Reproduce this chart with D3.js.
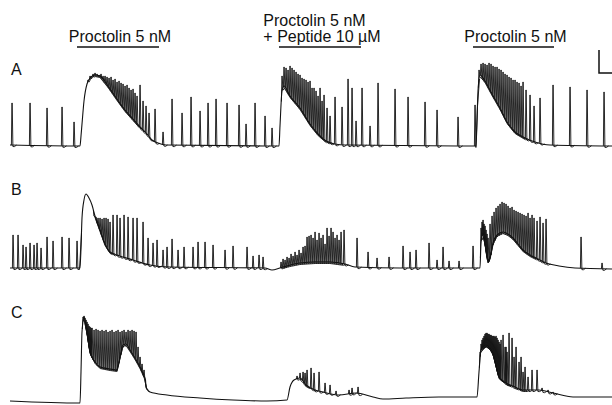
<!DOCTYPE html>
<html>
<head>
<meta charset="utf-8">
<script src="https://cdn.jsdelivr.net/npm/d3@7"></script>
<style>
  body { margin: 0; background: #fff; }
  svg { display: block; font-family: "Liberation Sans", Arial, sans-serif; }
</style>
</head>
<body>
<div id="chart"></div>
<script>
// drug applications (time, s) and their labels
const drugStart = [77, 279, 473];
const drugEnd = [159, 361, 554];
const drugLabels = [["Proctolin 5 nM"], ["Proctolin 5 nM", "+ Peptide 10 µM"], ["Proctolin 5 nM"]];

const panelNames = ["A", "B", "C"];

// slow potential (lower envelope) of each trace: [time, level]
const baseA = [[10, 1], [80, 0], [81, 10], [82, 22], [84, 45], [87, 62], [91, 69], [95, 71], [100, 70],
  [108, 60], [117, 47], [125, 36], [133, 27], [140, 19], [147, 12], [152, 6], [158, 3], [166, 1],
  [279, 0], [280, 20], [282, 55], [284, 60], [290, 50], [300, 38], [310, 22], [318, 12], [326, 5],
  [335, 2], [345, 1], [476, 0], [478, 55], [480, 71], [485, 65], [492, 52], [500, 38], [507, 24],
  [515, 14], [525, 8], [535, 4], [550, 1], [612, 0]];
const baseB = [[10, 0], [80, 0], [81, 20], [82, 50], [84, 68], [86, 74], [89, 70], [92, 63], [95, 52],
  [100, 38], [105, 24], [110, 16], [117, 13], [133, 8], [150, 3], [170, 1], [265, 0], [272, -2],
  [280, 0], [290, 3], [300, 5], [315, 6], [330, 6], [345, 4], [355, 1], [400, 0], [480, 0],
  [481, 25], [483, 35], [485, 25], [488, 6], [490, 10], [493, 25], [497, 33], [503, 36], [508, 34],
  [513, 30], [518, 24], [523, 18], [530, 13], [536, 10], [546, 5], [559, 2], [575, 0], [612, -1]];
const baseC = [[10, 1], [80, -1], [81, 30], [82, 70], [84, 85], [87, 70], [90, 50], [95, 40],
  [100, 35], [110, 33], [117, 32], [120, 45], [123, 57], [126, 58], [130, 52], [135, 44], [140, 35],
  [144, 26], [145.5, 22], [146, 15], [150, 10], [167, 7], [200, 4], [233, 2], [267, 1], [287, 2],
  [290, 15], [294, 22], [300, 24], [306, 17], [315, 12], [323, 10], [339, 7], [356, 9], [373, 5],
  [383, 3], [406, 4], [439, 5], [477, 5], [479, 30], [481, 52], [486, 57], [490, 54], [493, 49],
  [499, 25], [506, 19], [515, 15], [523, 12], [539, 12], [553, 9], [573, 5], [612, 5]];

// spikes: [time, peak level]
const spikesA = [[12, 43], [30, 43], [47, 38], [62, 39], [74, 24],
  [88, 66], [90, 70], [93, 72], [95, 73], [97, 72], [99, 71], [101, 72], [103, 70], [105, 70],
  [107, 69], [109, 68], [111, 69], [113, 66], [115, 67], [117, 64], [119, 65], [121, 63], [123, 62],
  [125, 60], [127, 61], [129, 58], [131, 56], [133, 57], [135, 53], [137, 50], [140, 61], [143, 45],
  [146, 40], [149, 33],
  [155, 37], [163, 14], [172, 47], [182, 33], [191, 49], [200, 35], [208, 43], [216, 47], [227, 43],
  [239, 41], [246, 22], [255, 43], [265, 30], [272, 18],
  [282, 70], [284, 79], [286, 78], [288, 76], [290, 80], [292, 78], [294, 76], [296, 74], [298, 72],
  [300, 71], [302, 68], [304, 67], [306, 66], [308, 64], [310, 65], [312, 58], [314, 58], [316, 55],
  [318, 50], [320, 58], [322, 45], [324, 51], [327, 38], [330, 30], [335, 49], [342, 39], [348, 67],
  [352, 58], [356, 25], [362, 58], [370, 20], [378, 63], [395, 57], [408, 49], [425, 44], [437, 36],
  [458, 29], [475, 41],
  [479, 76], [481, 82], [483, 83], [485, 82], [487, 81], [489, 83], [491, 82], [493, 80], [495, 79],
  [497, 79], [499, 77], [501, 76], [503, 74], [505, 72], [507, 71], [509, 69], [511, 68], [513, 66],
  [515, 66], [517, 64], [519, 63], [521, 60], [523, 64], [526, 56], [530, 51], [534, 40], [540, 48],
  [553, 61], [570, 59], [587, 56], [604, 54]];
const spikesB = [[13, 33], [18, 33], [23, 23], [26, 21], [30, 25], [34, 23], [37, 25], [41, 20],
  [47, 31], [53, 27], [62, 31], [69, 30], [77, 27],
  [94, 52], [96, 51], [98, 50], [100, 50], [102, 49], [104, 50], [106, 50], [108, 49], [110, 46],
  [113, 53], [117, 53], [120, 50], [124, 53], [128, 51], [133, 50], [137, 50], [143, 46], [148, 30],
  [153, 25], [157, 28], [163, 18], [167, 21], [172, 29], [178, 18], [184, 21], [193, 21], [198, 26],
  [205, 26], [213, 23], [225, 18], [233, 22], [247, 21], [253, 12], [259, 13], [263, 11],
  [281, 6], [283, 9], [285, 8], [287, 11], [289, 10], [291, 14], [293, 12], [295, 16], [297, 13],
  [299, 18], [301, 15], [303, 21], [305, 22], [307, 31], [309, 32], [311, 33], [313, 30], [315, 36],
  [317, 28], [319, 35], [321, 30], [323, 33], [325, 24], [327, 40], [329, 32], [331, 40], [333, 36],
  [335, 30], [337, 33], [339, 28], [341, 36], [344, 38], [357, 30], [368, 16], [377, 10], [389, 11],
  [403, 22], [410, 16], [416, 18], [429, 25], [437, 8], [443, 21], [449, 7], [459, 7], [473, 22],
  [481, 40], [482, 46], [483, 48], [484, 44], [485, 42], [486, 38], [487, 34], [488, 30], [490, 44],
  [492, 52], [494, 56], [496, 60], [498, 62], [500, 64], [502, 66], [504, 65], [506, 64], [508, 62],
  [510, 60], [512, 61], [514, 58], [516, 57], [518, 56], [520, 55], [522, 54], [524, 53], [526, 52],
  [528, 55], [530, 50], [532, 53], [534, 50], [537, 47], [540, 51], [543, 45], [546, 49],
  [581, 31], [602, 5]];
const spikesC = [[83, 85], [84, 86], [85, 84], [86, 82], [87, 80], [88, 78], [89, 76], [90, 75],
  [91, 74], [92, 74], [94, 72], [96, 73], [98, 72], [100, 71], [102, 72], [104, 71], [106, 72],
  [108, 70], [110, 71], [112, 72], [114, 70], [116, 71], [118, 72], [120, 70], [122, 71], [124, 72],
  [126, 70], [128, 72], [130, 71], [132, 72], [134, 71], [136, 70], [138, 55], [140, 45], [142, 38],
  [144, 32],
  [297, 26], [300, 29], [303, 30], [305, 29], [307, 32], [311, 34], [314, 29], [319, 30], [325, 19],
  [330, 17], [336, 11], [349, 12], [352, 14], [358, 15],
  [480, 50], [481, 58], [482, 62], [483, 64], [484, 66], [485, 68], [486, 69], [487, 69], [488, 68],
  [489, 68], [490, 67], [491, 67], [492, 66], [493, 66], [494, 66], [495, 65], [496, 66], [497, 64],
  [498, 62], [499, 60], [500, 58], [501, 62], [503, 67], [505, 55], [506, 55], [507, 50], [509, 69],
  [512, 64], [514, 45], [516, 55], [519, 40], [521, 45], [523, 30], [525, 35], [528, 25], [532, 32],
  [537, 32], [542, 14], [548, 12], [553, 10]];

const traces = [
  { name: "A", base: baseA, spikes: spikesA, rest: 146, labelY: 75 },
  { name: "B", base: baseB, spikes: spikesB, rest: 268, labelY: 195 },
  { name: "C", base: baseC, spikes: spikesC, rest: 402, labelY: 318 }
];

const width = 612, height = 405;
const svg = d3.select("#chart").append("svg")
  .attr("width", width).attr("height", height)
  .attr("viewBox", `0 0 ${width} ${height}`);

const x = d3.scaleLinear().domain([0, 612]).range([0, 612]);
const bis = d3.bisector(d => d[0]).left;

// level of the slow potential at time t
function levelAt(base, t) {
  const i = Math.max(1, Math.min(base.length - 1, bis(base, t)));
  const a = base[i - 1], b = base[i];
  return d3.interpolateNumber(a[1], b[1])((t - a[0]) / (b[0] - a[0]));
}

traces.forEach(tr => {
  const y = d3.scaleLinear().domain([0, 100]).range([tr.rest, tr.rest - 100]);
  const line = d3.line().x(d => x(d[0])).y(d => y(d[1]));
  const g = svg.append("g");

  g.append("path")
    .attr("d", line.curve(d3.curveMonotoneX)(tr.base))
    .attr("fill", "none").attr("stroke", "#111").attr("stroke-width", 1.1);

  const spikeLine = d3.line().x(d => x(d[0])).y(d => y(d[1]));
  g.selectAll("path.spike")
    .data(tr.spikes)
    .join("path")
    .attr("class", "spike")
    .attr("d", d => {
      const t = d[0];
      return spikeLine([
        [t - 0.6, levelAt(tr.base, t - 0.6)],
        [t - 0.1, d[1]],
        [t + 0.2, d[1]],
        [t + 0.9, levelAt(tr.base, t + 0.9) - 1.5],
        [t + 2.5, levelAt(tr.base, t + 2.5) - 1.5],
        [t + 4.5, levelAt(tr.base, t + 4.5)]
      ]);
    })
    .attr("fill", "none").attr("stroke", "#111").attr("stroke-width", 0.9);

  svg.append("text")
    .attr("x", 11).attr("y", tr.labelY)
    .attr("font-size", 16).attr("fill", "#111")
    .text(tr.name);
});

// drug application bars and labels
drugStart.forEach((s, i) => {
  const e = drugEnd[i];
  svg.append("line")
    .attr("x1", x(s)).attr("x2", x(e)).attr("y1", 47).attr("y2", 47)
    .attr("stroke", "#111").attr("stroke-width", 1.5);
  const lines = drugLabels[i];
  const lg = svg.append("g");
  lines.forEach((txt, j) => {
    lg.append("text")
      .attr("y", 42 - (lines.length - 1 - j) * 16.5)
      .attr("font-size", 16).attr("fill", "#111")
      .text(txt);
  });
  const w = d3.max(lg.selectAll("text").nodes(), n => n.getComputedTextLength());
  lg.attr("transform", `translate(${x((s + e) / 2) + 2 - w / 2},0)`);
});

// scale bar
const yA = d3.scaleLinear().domain([0, 100]).range([146, 46]);
const sbT = 599, sbV = 73, sbDt = 14, sbDv = 23;
svg.append("path")
  .attr("d", d3.line()([[x(sbT), yA(sbV + sbDv)], [x(sbT), yA(sbV)], [x(sbT + sbDt), yA(sbV)]]))
  .attr("fill", "none").attr("stroke", "#111").attr("stroke-width", 1.5);
</script>
</body>
</html>
